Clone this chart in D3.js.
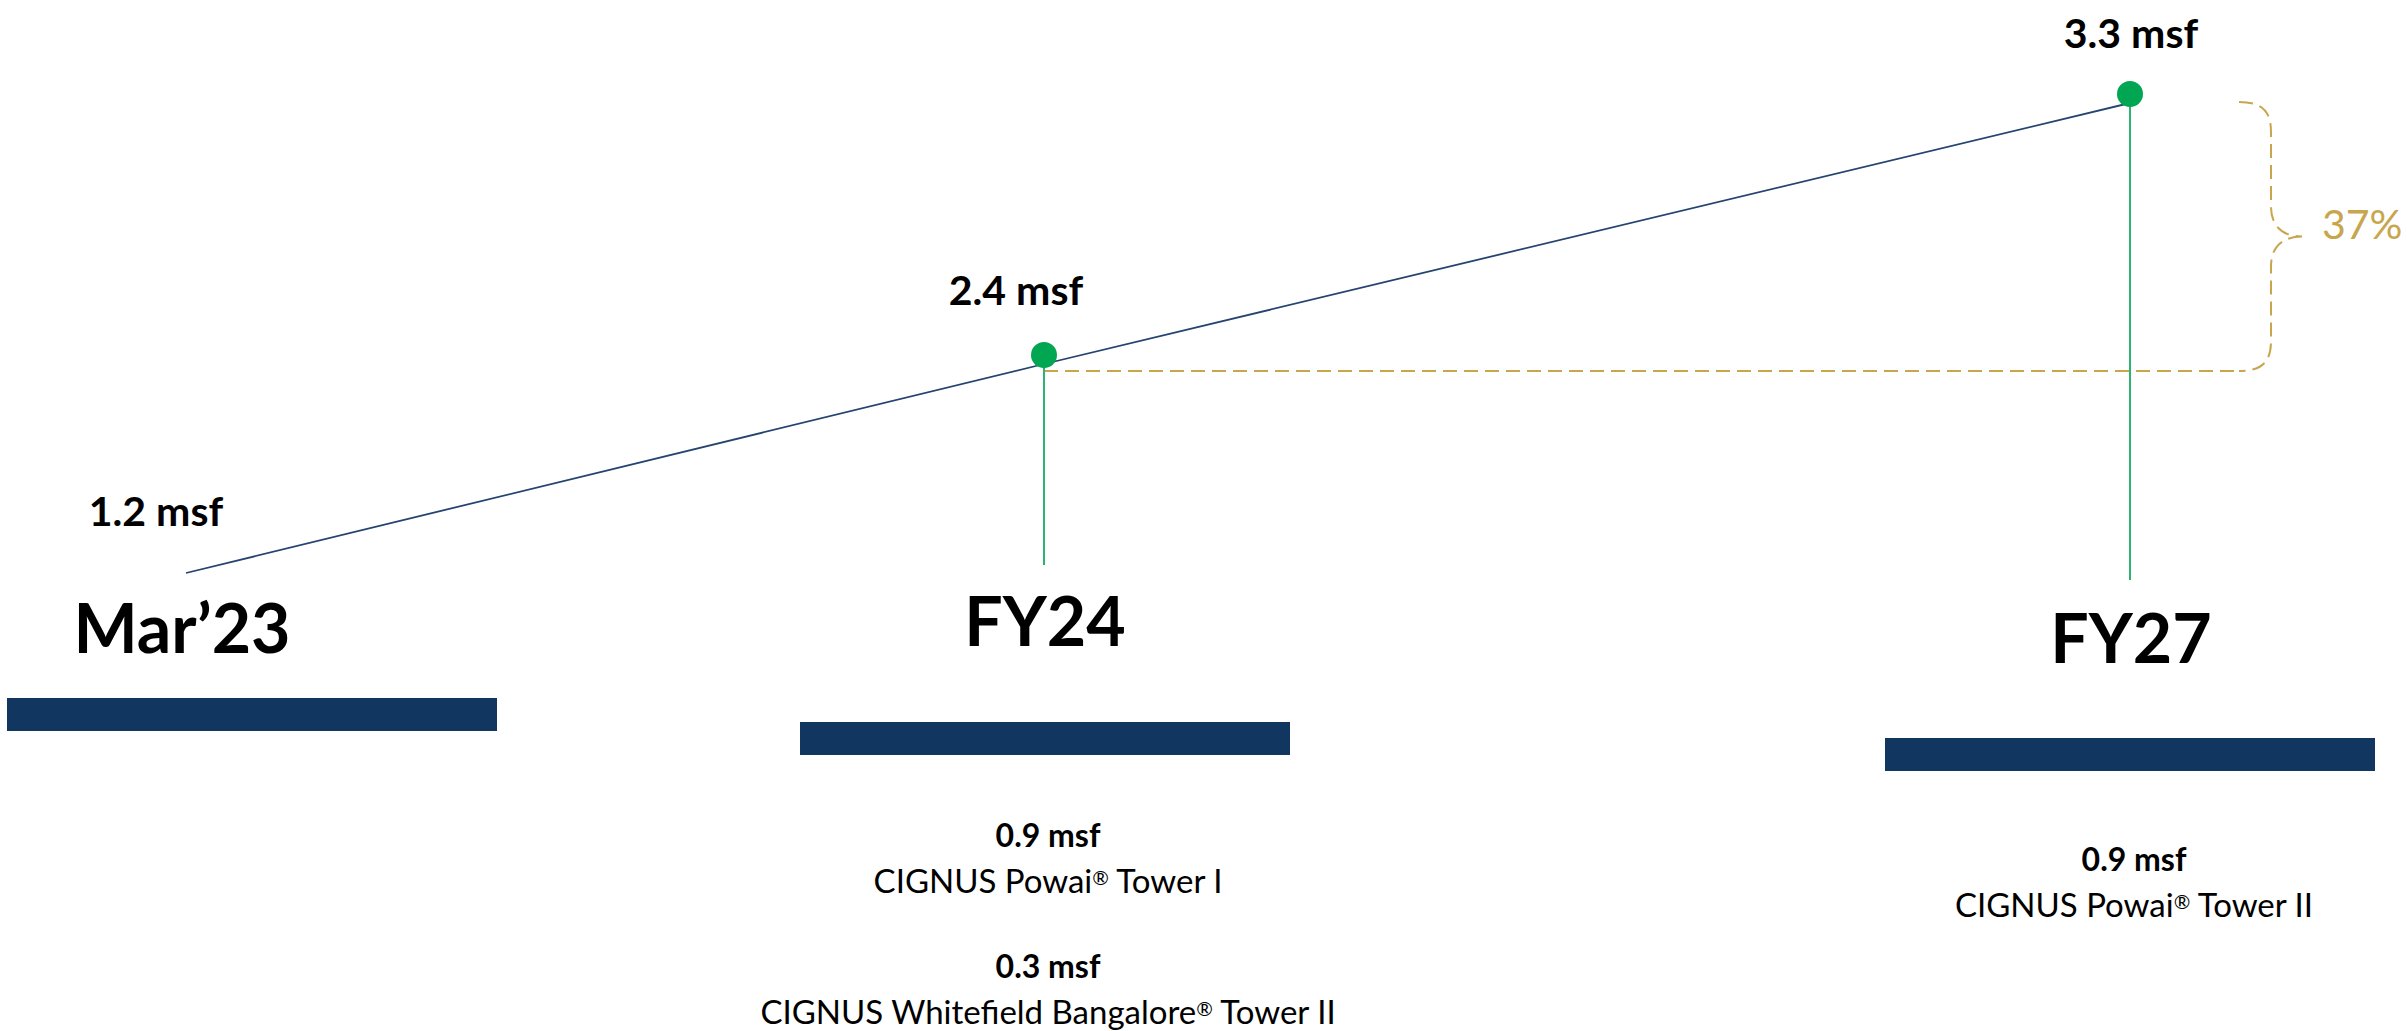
<!DOCTYPE html>
<html>
<head>
<meta charset="utf-8">
<script src="https://cdnjs.cloudflare.com/ajax/libs/d3/7.8.5/d3.min.js"></script>
<style>
  body { margin: 0; background: #fff; }
  svg { display: block; font-family: Lato, "Open Sans", sans-serif; }
</style>
</head>
<body>
<svg id="capacityChart" width="2407" height="1031"></svg>
<script>
// data
const periods = ["Mar’23", "FY24", "FY27"];
const capacity = [1.2, 2.4, 3.3];
const additionPeriod = ["FY24", "FY24", "FY27"];
const additionSize = [0.9, 0.3, 0.9];
const additionName = ["CIGNUS Powai® Tower I", "CIGNUS Whitefield Bangalore® Tower II", "CIGNUS Powai® Tower II"];
const growthLabel = "37%";

// layout (staggered columns, like the slide)
const labelBase = [653, 646, 663];
const labelDx = [-4, 1, 1];
const barTop = [698, 722, 738];
const barShift = [66, 1, 0];
const stemEnd = [null, 565, 580];
const valueDx = [-30, -28, 1];
const valueDy = [-47, -59, -55];
const detailStart = [null, 847, 871];
const barW = 490, barH = 33;

const navy = "#113760";
const green = "#00A651";
const gold = "#C8A64E";

const svg = d3.select("#capacityChart");

const x = d3.scaleOrdinal().domain(periods).range([186, 1044, 2130]);
const y = d3.scaleLinear().domain(capacity).range([573, 364, 103]);

const points = periods.map((p, i) => ({ period: p, value: capacity[i], i }));

// growth bracket between FY24 and FY27
const baseY = y(capacity[1]) + 7;
const topY = y(capacity[2]) - 1;
const midY = (baseY + topY) / 2;
const bx = x("FY27") + 141;

svg.append("line")
  .attr("x1", x("FY24"))
  .attr("x2", x("FY27") + 112)
  .attr("y1", baseY)
  .attr("y2", baseY)
  .attr("stroke", gold)
  .attr("stroke-width", 2)
  .attr("stroke-dasharray", "14,7");

const brace = d3.path();
brace.moveTo(bx - 32, topY);
brace.bezierCurveTo(bx - 8, topY, bx, topY + 10, bx, topY + 30);
brace.lineTo(bx, midY - 30);
brace.bezierCurveTo(bx, midY - 10, bx + 12, midY, bx + 31, midY);
brace.moveTo(bx + 31, midY);
brace.bezierCurveTo(bx + 12, midY, bx, midY + 10, bx, midY + 30);
brace.lineTo(bx, baseY - 30);
brace.bezierCurveTo(bx, baseY - 10, bx - 8, baseY, bx - 32, baseY);

svg.append("path")
  .attr("d", brace.toString())
  .attr("fill", "none")
  .attr("stroke", gold)
  .attr("stroke-width", 2)
  .attr("stroke-dasharray", "14,7");

svg.append("text")
  .attr("x", bx + 51)
  .attr("y", midY + 2)
  .attr("fill", gold)
  .style("font-size", "41px")
  .text(growthLabel);

// stems
svg.append("g")
  .selectAll("line")
  .data(points.filter(d => stemEnd[d.i] !== null))
  .join("line")
  .attr("x1", d => x(d.period))
  .attr("x2", d => x(d.period))
  .attr("y1", d => y(d.value) - 9)
  .attr("y2", d => stemEnd[d.i])
  .attr("stroke", "#2DB36F")
  .attr("stroke-width", 2);

// trend line
svg.append("path")
  .datum(points)
  .attr("d", d3.line().x(d => x(d.period)).y(d => y(d.value)))
  .attr("fill", "none")
  .attr("stroke", "#25446F")
  .attr("stroke-width", 1.8);

svg.append("g")
  .selectAll("circle")
  .data(points.filter(d => d.i > 0))
  .join("circle")
  .attr("cx", d => x(d.period))
  .attr("cy", d => y(d.value) - 9)
  .attr("r", 13)
  .attr("fill", green);

// value labels
svg.append("g")
  .selectAll("text")
  .data(points)
  .join("text")
  .attr("x", d => x(d.period) + valueDx[d.i])
  .attr("y", d => y(d.value) + valueDy[d.i])
  .attr("text-anchor", "middle")
  .style("font-size", "41px")
  .style("font-weight", "bold")
  .text(d => `${d.value} msf`);

// period labels
svg.append("g")
  .selectAll("text")
  .data(points)
  .join("text")
  .attr("x", d => x(d.period) + labelDx[d.i])
  .attr("y", d => labelBase[d.i])
  .attr("text-anchor", "middle")
  .style("font-size", "68px")
  .style("font-weight", "bold")
  .text(d => d.period);

svg.append("g")
  .selectAll("rect")
  .data(points)
  .join("rect")
  .attr("x", d => x(d.period) + barShift[d.i] - barW / 2)
  .attr("y", d => barTop[d.i])
  .attr("width", barW)
  .attr("height", barH)
  .attr("fill", navy);

// additions under each bar
const seen = {};
const additions = additionPeriod.map((p, k) => {
  seen[p] = (seen[p] || 0) + 1;
  return { period: p, size: additionSize[k], name: additionName[k], slot: seen[p] - 1, col: periods.indexOf(p) };
});

const add = svg.append("g")
  .selectAll("g")
  .data(additions)
  .join("g")
  .attr("transform", d => `translate(${x(d.period) + 4},${detailStart[d.col] + d.slot * 131})`);

add.append("text")
  .attr("text-anchor", "middle")
  .style("font-size", "32px")
  .style("font-weight", "bold")
  .text(d => `${d.size} msf`);

// names, with the ® set as a small raised mark
add.append("text")
  .attr("y", 46)
  .attr("text-anchor", "middle")
  .style("font-size", "33px")
  .each(function(d) {
    const parts = d.name.split("®");
    const t = d3.select(this);
    parts.forEach((part, j) => {
      t.append("tspan").text(part);
      if (j < parts.length - 1) {
        t.append("tspan")
          .attr("baseline-shift", "38%")
          .style("font-size", "20px")
          .text("®");
      }
    });
  });
</script>
</body>
</html>
